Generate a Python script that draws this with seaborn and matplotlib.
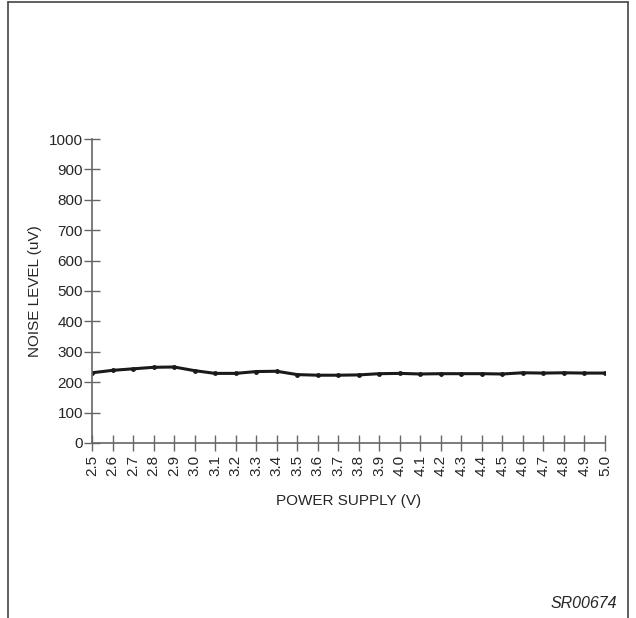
import numpy as np
import pandas as pd
import seaborn as sns
import matplotlib.pyplot as plt
from matplotlib.lines import Line2D

# Values
supply_v = [2.5, 2.6, 2.7, 2.8, 2.9, 3.0, 3.1, 3.2, 3.3, 3.4, 3.5, 3.6, 3.7,
            3.8, 3.9, 4.0, 4.1, 4.2, 4.3, 4.4, 4.5, 4.6, 4.7, 4.8, 4.9, 5.0]
noise_uv = [231, 239, 244, 249, 250, 238, 229, 229, 235, 236, 225, 223, 223,
            224, 228, 229, 227, 228, 228, 228, 227, 231, 230, 231, 230, 230]
y_ticks = [0, 100, 200, 300, 400, 500, 600, 700, 800, 900, 1000]

df = pd.DataFrame({"supply": supply_v, "noise": noise_uv})

sns.set_style("ticks")
plt.rcParams['font.family'] = ['Liberation Sans', 'DejaVu Sans']

fs = 11
fig = plt.figure(figsize=(6.36, 6.18), dpi=100)
ax = fig.add_axes([92 / 636, 1 - 443 / 618, (605 - 92) / 636, (443 - 139) / 618])

sns.lineplot(data=df, x="supply", y="noise", ax=ax, color="#1a1a1a",
             linewidth=2.2, marker="o", markersize=3.5, markeredgewidth=0)

ax.set_xlim(2.5, 5.0)
ax.set_ylim(0, 1000)
ax.set_xticks(supply_v)
ax.set_xticklabels([f"{v:.1f}" for v in supply_v], rotation=90, fontsize=fs)
ax.set_yticks(y_ticks)
ax.set_yticklabels([str(t) for t in y_ticks], fontsize=fs)
ax.tick_params(direction="inout", length=11, width=1, color="#666666", pad=1)
ax.tick_params(axis="x", pad=3)

for side in ["top", "right"]:
    ax.spines[side].set_visible(False)
for side in ["left", "bottom"]:
    ax.spines[side].set_color("#666666")
    ax.spines[side].set_linewidth(1.2)

ax.set_xlabel("POWER SUPPLY (V)", fontsize=fs, labelpad=13)
ax.set_ylabel("NOISE LEVEL (uV)", fontsize=fs, labelpad=5)

# page frame
frame_kw = dict(color="#444444", linewidth=1.2, transform=fig.transFigure)
fig.add_artist(Line2D([8 / 636, 8 / 636], [0, 1 - 2 / 618], **frame_kw))
fig.add_artist(Line2D([628 / 636, 628 / 636], [0, 1 - 2 / 618], **frame_kw))
fig.add_artist(Line2D([8 / 636, 628 / 636], [1 - 2 / 618, 1 - 2 / 618], **frame_kw))

fig.text(617 / 636, 1 - 604 / 618, "SR00674", ha="right", va="center",
         fontsize=11.5, style="italic")

fig.savefig("out.png", dpi=100)
